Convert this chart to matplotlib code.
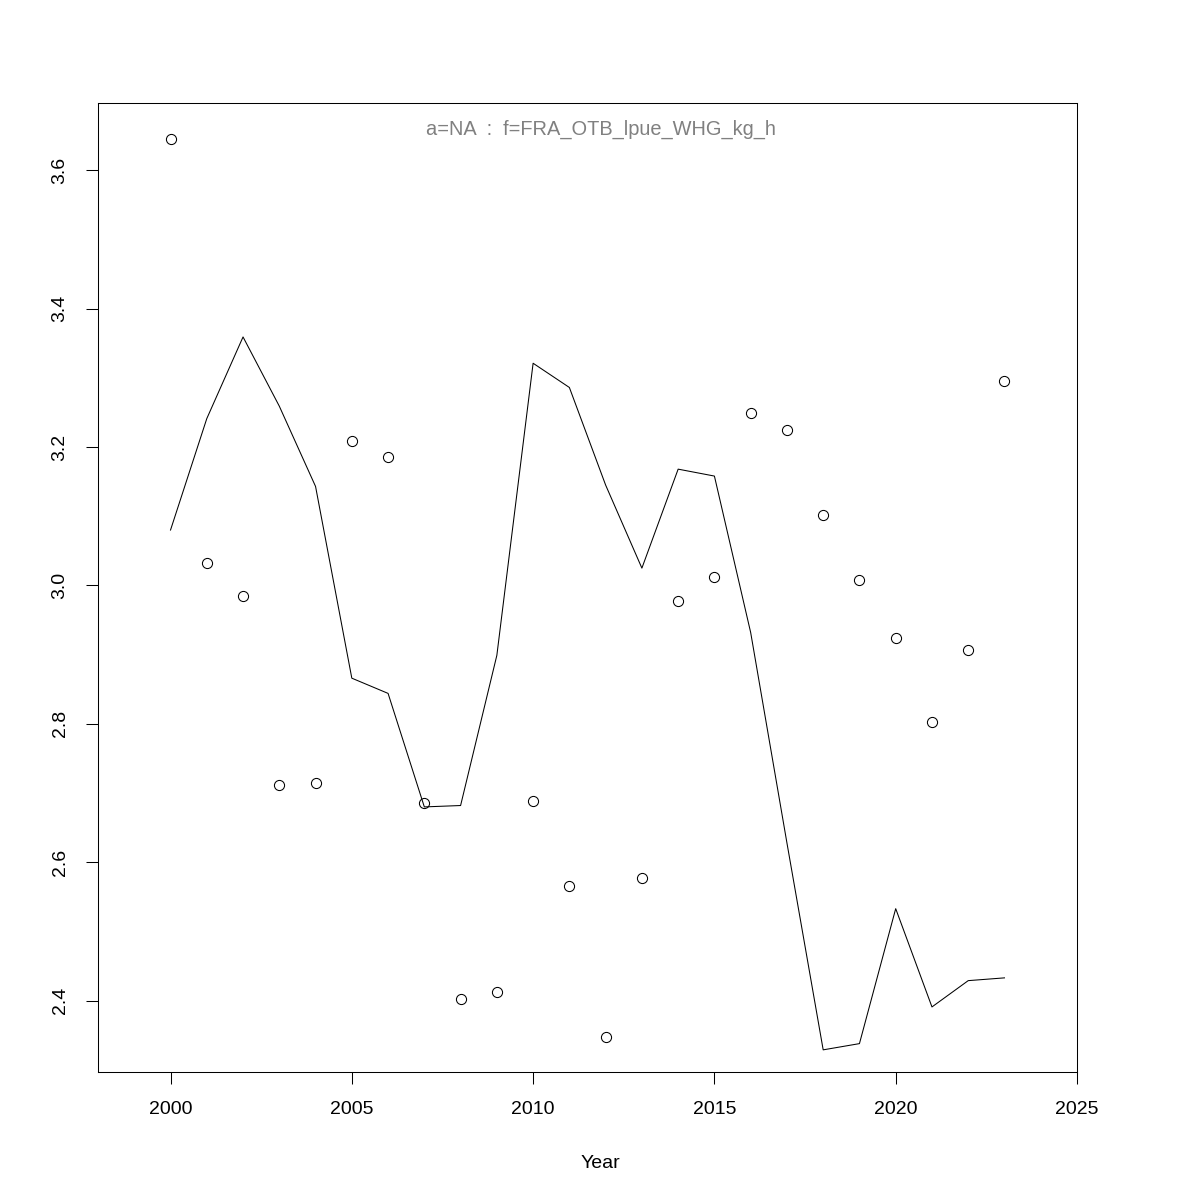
import matplotlib
matplotlib.use("Agg")
import matplotlib.pyplot as plt

plt.rcParams['font.family'] = ['Liberation Sans', 'DejaVu Sans']

years = list(range(2000, 2024))
observed = [3.645, 3.033, 2.984, 2.712, 2.715, 3.208, 3.186, 2.686, 2.403, 2.412,
            2.688, 2.566, 2.348, 2.578, 2.978, 3.012, 3.249, 3.224, 3.102, 3.008,
            2.924, 2.803, 2.907, 3.295]
fitted = [3.080, 3.241, 3.359, 3.259, 3.143, 2.866, 2.844, 2.680, 2.682, 2.899,
          3.321, 3.286, 3.145, 3.025, 3.168, 3.158, 2.932, 2.628, 2.329, 2.338,
          2.533, 2.391, 2.429, 2.433]
xticks = [2000, 2005, 2010, 2015, 2020, 2025]
yticks = [2.4, 2.6, 2.8, 3.0, 3.2, 3.4, 3.6]
title_text = "a=NA  :  f=FRA_OTB_lpue_WHG_kg_h"
xlabel_text = "Year"

fig = plt.figure(figsize=(12, 12), dpi=100)
ax = fig.add_axes([98/1200, 1 - 1072/1200, (1077-98)/1200, (1072-103)/1200])

ax.plot(years, fitted, color='black', linewidth=0.75)
ax.plot(years, observed, linestyle='none', marker='o', markersize=7.3,
        markerfacecolor='none', markeredgecolor='black', markeredgewidth=0.75)

ax.set_xlim(1998, 2025)
ax.set_ylim(2.297, 3.697)
ax.set_xticks(xticks)
ax.set_xticklabels([str(t) for t in xticks])
ax.set_yticks(yticks)
ax.set_yticklabels([f"{t:.1f}" for t in yticks], rotation=90, va='center')

ax.tick_params(axis='both', direction='out', length=8.6, width=0.75,
               labelsize=14, pad=12.5, colors='black')
for s in ax.spines.values():
    s.set_linewidth(0.75)
    s.set_color('black')

fig.text(601/1200, 1 - 135/1200, title_text, ha='center', va='baseline',
         fontsize=14.4, color='#808080')
fig.text(600/1200, 1 - 1168/1200, xlabel_text, ha='center', va='baseline',
         fontsize=14, color='black')

fig.savefig("out.png", dpi=100, facecolor='white')
